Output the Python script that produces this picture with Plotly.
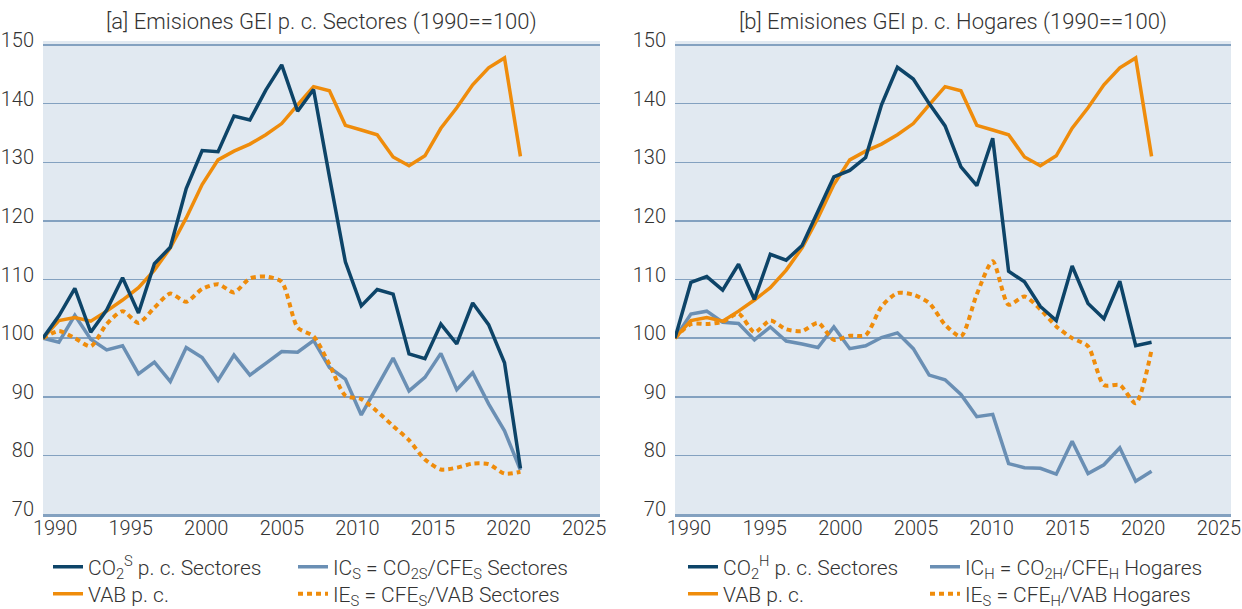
import plotly.graph_objects as go

years = list(range(1990, 2021))

# Panel a: Sectores
co2_s = [100, 103.8, 108.5, 101.0, 104.8, 110.3, 104.3, 112.7, 115.5, 125.5, 132.0, 131.8, 137.9, 137.2, 142.3, 146.6,
         138.7, 142.4, 127.5, 113.0, 105.5, 108.3, 107.5, 97.3, 96.5, 102.4, 99.0, 106.0, 102.3, 95.8, 77.8]
ic_s = [100, 99.3, 103.9, 99.8, 98.0, 98.7, 93.9, 95.9, 92.6, 98.4, 96.7, 92.8, 97.1, 93.7, 95.7, 97.7,
        97.6, 99.6, 95.0, 93.0, 86.9, 91.8, 96.6, 91.0, 93.3, 97.4, 91.2, 94.1, 88.8, 84.2, 77.5]
ie_s = [100, 101.2, 100.0, 98.6, 102.4, 104.6, 102.6, 105.2, 107.6, 106.2, 108.4, 109.2, 107.8, 110.2, 110.5, 109.6,
        101.8, 100.3, 95.5, 90.2, 89.6, 87.5, 85.0, 82.6, 79.3, 77.6, 77.9, 78.6, 78.5, 76.9, 77.2]
# VAB p. c. (shared by both panels)
vab = [100, 103.0, 103.5, 102.9, 104.6, 106.5, 108.6, 111.6, 115.4, 120.5, 126.2, 130.4, 131.9, 133.1, 134.7, 136.6,
       139.8, 142.9, 142.2, 136.3, 135.5, 134.7, 130.9, 129.4, 131.1, 135.8, 139.3, 143.2, 146.1, 147.8, 131.0]

# Panel b: Hogares
co2_h = [100, 109.5, 110.5, 108.2, 112.6, 106.6, 114.3, 113.3, 115.8, 121.6, 127.5, 128.6, 130.8, 139.8, 146.2, 144.2,
         140.0, 136.2, 129.2, 126.0, 134.1, 111.4, 109.6, 105.4, 103.0, 112.3, 105.9, 103.3, 109.7, 98.7, 99.3]
ic_h = [100, 104.1, 104.6, 102.7, 102.5, 99.7, 101.9, 99.5, 99.0, 98.4, 101.9, 98.2, 98.7, 100.1, 100.9, 98.2,
        93.7, 92.9, 90.4, 86.6, 87.0, 78.6, 77.9, 77.8, 76.8, 82.4, 76.9, 78.4, 81.3, 75.6, 77.3]
ie_h = [100, 102.4, 102.4, 102.8, 104.2, 101.0, 103.0, 101.5, 101.2, 102.6, 99.7, 100.4, 100.5, 105.4, 107.7, 107.4,
        106.0, 102.3, 100.3, 107.5, 113.1, 105.7, 107.1, 104.9, 102.0, 100.0, 98.6, 92.0, 92.0, 88.9, 98.0]

x_ticks = [1990, 1995, 2000, 2005, 2010, 2015, 2020, 2025]
y_ticks = [70, 80, 90, 100, 110, 120, 130, 140, 150]

titles = ["[a] Emisiones GEI p. c. Sectores (1990==100)",
          "[b] Emisiones GEI p. c. Hogares (1990==100)"]
names_a = ["CO<sub>2</sub><sup>S</sup> p. c. Sectores", "VAB p. c.",
           "IC<sub>S</sub> = CO<sub>2S</sub>/CFE<sub>S</sub> Sectores",
           "IE<sub>S</sub> = CFE<sub>S</sub>/VAB Sectores"]
names_b = ["CO<sub>2</sub><sup>H</sup> p. c. Sectores", "VAB p. c.",
           "IC<sub>H</sub> = CO<sub>2H</sub>/CFE<sub>H</sub> Hogares",
           "IE<sub>S</sub> = CFE<sub>H</sub>/VAB Hogares"]

DARK = "#0d4468"
LIGHT = "#6a8fb4"
ORANGE = "#ef8c0b"
BG = "#e1e9f1"
GRID = "#83a1c0"
TXT = "#333333"
FONT = "Roboto"
WEIGHT = 300

W, H = 1242, 609

fig = go.Figure()


def add_panel(xa, ya, co2, ic, ie, names, legs):
    # legs: legend ids for CO2, VAB, IC, IE
    fig.add_trace(go.Scatter(x=years, y=ic, mode="lines", name=names[2], legend=legs[2],
                             line=dict(color=LIGHT, width=3.5), xaxis=xa, yaxis=ya))
    fig.add_trace(go.Scatter(x=years, y=ie, mode="lines", name=names[3], legend=legs[3],
                             line=dict(color=ORANGE, width=4, dash="5px,4px", shape="spline", smoothing=0.7),
                             xaxis=xa, yaxis=ya))
    fig.add_trace(go.Scatter(x=years, y=vab, mode="lines", name=names[1], legend=legs[1],
                             line=dict(color=ORANGE, width=3.5), xaxis=xa, yaxis=ya))
    fig.add_trace(go.Scatter(x=years, y=co2, mode="lines", name=names[0], legend=legs[0],
                             line=dict(color=DARK, width=3.5), xaxis=xa, yaxis=ya))


add_panel("x", "y", co2_s, ic_s, ie_s, names_a, ["legend", "legend2", "legend3", "legend4"])
add_panel("x2", "y2", co2_h, ic_h, ie_h, names_b, ["legend5", "legend6", "legend7", "legend8"])

# empty traces so the label-only axes get drawn
fig.add_trace(go.Scatter(x=[], y=[], xaxis="x3", yaxis="y", showlegend=False, hoverinfo="skip"))
fig.add_trace(go.Scatter(x=[], y=[], xaxis="x4", yaxis="y2", showlegend=False, hoverinfo="skip"))

# plot-area geometry in pixels
L1, R1 = 43, 600
L2, R2 = 675, 1231
TOP, BOT = 41, 514
ydom = [1 - BOT / H, 1 - TOP / H]
yr = [70, 70 + 80 * (BOT - TOP) / (BOT - 45)]

tfont = dict(family=FONT, size=20, color=TXT, weight=WEIGHT)
xcommon = dict(range=[1990, 2025], showgrid=False, zeroline=False, showticklabels=False, ticks="",
               showline=True, linecolor=GRID, linewidth=2.5)
lblcommon = dict(showgrid=False, zeroline=False, showline=False, ticks="", tickmode="array",
                 tickvals=x_ticks, ticktext=[str(v) for v in x_ticks], tickfont=tfont)
ycommon = dict(range=yr, tickmode="array", tickvals=y_ticks, showgrid=True, gridcolor=GRID, gridwidth=1.5,
               zeroline=False, showline=False, ticks="", ticklabelshift=-5, ticklabelstandoff=8,
               tickfont=tfont)

fig.update_layout(
    width=W, height=H,
    margin=dict(l=0, r=0, t=0, b=0, autoexpand=False),
    paper_bgcolor="white", plot_bgcolor=BG,
    font=dict(family=FONT, color=TXT, weight=WEIGHT),
    xaxis=dict(domain=[L1 / W, R1 / W], anchor="y", **xcommon),
    xaxis2=dict(domain=[L2 / W, R2 / W], anchor="y2", **xcommon),
    xaxis3=dict(overlaying="x", anchor="y", range=[1989.2, 2026.05], **lblcommon),
    xaxis4=dict(overlaying="x2", anchor="y2", range=[1989.08, 2025.8], **lblcommon),
    yaxis=dict(domain=ydom, anchor="x", **ycommon),
    yaxis2=dict(domain=ydom, anchor="x2", **ycommon),
    showlegend=True,
)

leg_font = dict(family=FONT, size=21, color=TXT, weight=WEIGHT)
# (legend id, text start x, row center y)
legend_pos = [("legend", 88, 567), ("legend2", 88, 594), ("legend3", 333, 567), ("legend4", 333, 594),
              ("legend5", 723, 567), ("legend6", 723, 594), ("legend7", 965, 567), ("legend8", 965, 594)]
for key, tx, cy in legend_pos:
    fig.update_layout({key: dict(x=(tx - 40) / W, y=1 - cy / H, xanchor="left", yanchor="middle",
                                 orientation="v", bgcolor="rgba(0,0,0,0)", font=leg_font,
                                 itemclick=False, itemdoubleclick=False)})

for i, t in enumerate(titles):
    cx = ((L1 + R1) / 2 if i == 0 else (L2 + R2) / 2) / W
    fig.add_annotation(text=t, x=cx, y=1 - 22 / H, xref="paper", yref="paper", showarrow=False,
                       xanchor="center", yanchor="middle",
                       font=dict(family=FONT, size=22, color=TXT, weight=WEIGHT))

fig.write_html("out.html", config={"displayModeBar": False, "staticPlot": True},
               post_script="document.body.style.margin='0px';document.body.style.overflow='hidden';")
